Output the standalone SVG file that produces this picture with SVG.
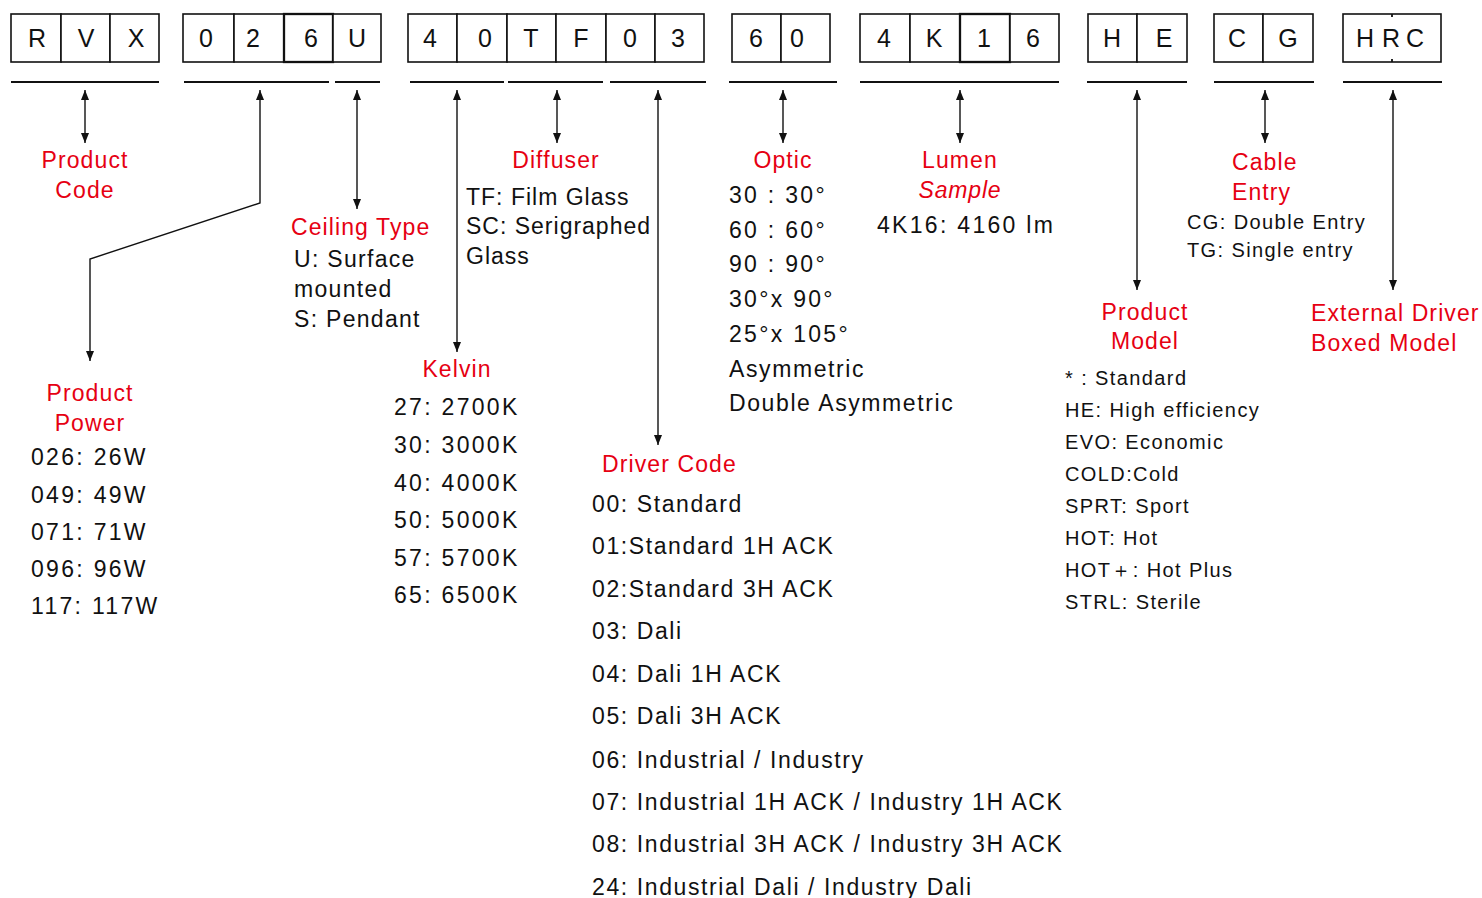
<svg xmlns="http://www.w3.org/2000/svg" width="1482" height="898" viewBox="0 0 1482 898">
<style>
  .cell { fill: #ffffff; stroke: #111111; stroke-width: 1.6; }
  .thick { stroke-width: 2.3; }
  .ul { stroke: #111111; stroke-width: 1.8; }
  .bl { font-family: "Liberation Sans", Arial, sans-serif; font-size: 25px; fill: #111111; text-anchor: middle; }
  .lbl { font-family: "Liberation Sans", Arial, sans-serif; font-size: 23px; fill: #e60012; letter-spacing: 1.1px; }
  .c { text-anchor: middle; }
  .it { font-style: italic; letter-spacing: 0.8px; }
  .t { font-family: "Liberation Sans", Arial, sans-serif; font-size: 23px; fill: #111111; letter-spacing: 1.3px; }
  .d { letter-spacing: 1.6px; }
  .df { letter-spacing: 1.0px; }
  .n { letter-spacing: 2.3px; }
  .s { font-family: "Liberation Sans", Arial, sans-serif; font-size: 20px; fill: #111111; letter-spacing: 1.4px; }
  .con { fill: none; stroke: #111111; stroke-width: 1.4; marker-start: url(#ah); marker-end: url(#ah); }
</style>
<defs>
  <marker id="ah" viewBox="0 0 10 8" refX="10" refY="4" markerWidth="10" markerHeight="8" orient="auto-start-reverse" markerUnits="userSpaceOnUse">
    <path d="M0,0 L10,4 L0,8 z" fill="#111111"/>
  </marker>
</defs>
<rect width="1482" height="898" fill="#ffffff"/>

<g id="product-code">
  <rect class="cell" x="11" y="14" width="50" height="48"/>
  <rect class="cell" x="61" y="14" width="49" height="48"/>
  <rect class="cell" x="110" y="14" width="49" height="48"/>
  <text class="bl" x="37" y="47">R</text>
  <text class="bl" x="86" y="47">V</text>
  <text class="bl" x="136" y="47">X</text>
  <line class="ul" x1="11" y1="82" x2="159" y2="82"/>
  <text class="lbl c" x="85" y="168">Product</text>
  <text class="lbl c" x="85" y="198">Code</text>
</g>

<g id="product-power">
  <rect class="cell" x="183" y="14" width="51" height="48"/>
  <rect class="cell" x="234" y="14" width="50" height="48"/>
  <rect class="cell thick" x="284" y="14" width="49" height="48"/>
  <text class="bl" x="206" y="47">0</text>
  <text class="bl" x="253" y="47">2</text>
  <text class="bl" x="311" y="47">6</text>
  <line class="ul" x1="184" y1="82" x2="329" y2="82"/>
  <text class="lbl c" x="90" y="401">Product</text>
  <text class="lbl c" x="90" y="431">Power</text>
  <text class="t n" x="31" y="465">026: 26W</text>
  <text class="t n" x="31" y="503">049: 49W</text>
  <text class="t n" x="31" y="540">071: 71W</text>
  <text class="t n" x="31" y="577">096: 96W</text>
  <text class="t n" x="31" y="614">117: 117W</text>
</g>

<g id="ceiling-type">
  <rect class="cell" x="333" y="14" width="48" height="48"/>
  <text class="bl" x="357" y="47">U</text>
  <line class="ul" x1="335" y1="82" x2="380" y2="82"/>
  <text class="lbl" x="291" y="235">Ceiling Type</text>
  <text class="t" x="294" y="267">U: Surface</text>
  <text class="t" x="294" y="297">mounted</text>
  <text class="t" x="294" y="327">S: Pendant</text>
</g>

<g id="kelvin">
  <rect class="cell" x="408" y="14" width="49" height="48"/>
  <rect class="cell" x="457" y="14" width="50" height="48"/>
  <text class="bl" x="430" y="47">4</text>
  <text class="bl" x="485" y="47">0</text>
  <line class="ul" x1="410" y1="82" x2="504" y2="82"/>
  <text class="lbl c" x="457" y="377">Kelvin</text>
  <text class="t n" x="394" y="415">27: 2700K</text>
  <text class="t n" x="394" y="453">30: 3000K</text>
  <text class="t n" x="394" y="491">40: 4000K</text>
  <text class="t n" x="394" y="528">50: 5000K</text>
  <text class="t n" x="394" y="566">57: 5700K</text>
  <text class="t n" x="394" y="603">65: 6500K</text>
</g>

<g id="diffuser">
  <rect class="cell" x="507" y="14" width="49" height="48"/>
  <rect class="cell" x="556" y="14" width="50" height="48"/>
  <text class="bl" x="531" y="47">T</text>
  <text class="bl" x="581" y="47">F</text>
  <line class="ul" x1="508" y1="82" x2="603" y2="82"/>
  <text class="lbl c" x="556" y="168">Diffuser</text>
  <text class="t df" x="466" y="205">TF: Film Glass</text>
  <text class="t df" x="466" y="234">SC: Serigraphed</text>
  <text class="t df" x="466" y="264">Glass</text>
</g>

<g id="driver-code">
  <rect class="cell" x="606" y="14" width="49" height="48"/>
  <rect class="cell" x="655" y="14" width="49" height="48"/>
  <text class="bl" x="630" y="47">0</text>
  <text class="bl" x="678" y="47">3</text>
  <line class="ul" x1="610" y1="82" x2="706" y2="82"/>
  <text class="lbl" x="602" y="472">Driver Code</text>
  <text class="t d" x="592" y="512">00: Standard</text>
  <text class="t d" x="592" y="554">01:Standard 1H ACK</text>
  <text class="t d" x="592" y="597">02:Standard 3H ACK</text>
  <text class="t d" x="592" y="639">03: Dali</text>
  <text class="t d" x="592" y="682">04: Dali 1H ACK</text>
  <text class="t d" x="592" y="724">05: Dali 3H ACK</text>
  <text class="t d" x="592" y="768">06: Industrial / Industry</text>
  <text class="t d" x="592" y="810">07: Industrial 1H ACK / Industry 1H ACK</text>
  <text class="t d" x="592" y="852">08: Industrial 3H ACK / Industry 3H ACK</text>
  <text class="t d" x="592" y="895">24: Industrial Dali / Industry Dali</text>
</g>

<g id="optic">
  <rect class="cell" x="732" y="14" width="49" height="48"/>
  <rect class="cell" x="781" y="14" width="49" height="48"/>
  <text class="bl" x="756" y="47">6</text>
  <text class="bl" x="797" y="47">0</text>
  <line class="ul" x1="729" y1="82" x2="837" y2="82"/>
  <text class="lbl c" x="783" y="168">Optic</text>
  <text class="t n" x="729" y="203">30 : 30°</text>
  <text class="t n" x="729" y="238">60 : 60°</text>
  <text class="t n" x="729" y="272">90 : 90°</text>
  <text class="t n" x="729" y="307">30°x 90°</text>
  <text class="t n" x="729" y="342">25°x 105°</text>
  <text class="t d" x="729" y="377">Asymmetric</text>
  <text class="t d" x="729" y="411">Double Asymmetric</text>
</g>

<g id="lumen">
  <rect class="cell" x="860" y="14" width="50" height="48"/>
  <rect class="cell" x="910" y="14" width="50" height="48"/>
  <rect class="cell thick" x="960" y="14" width="50" height="48"/>
  <rect class="cell" x="1010" y="14" width="49" height="48"/>
  <text class="bl" x="884" y="47">4</text>
  <text class="bl" x="934" y="47">K</text>
  <text class="bl" x="984" y="47">1</text>
  <text class="bl" x="1033" y="47">6</text>
  <line class="ul" x1="860" y1="82" x2="1059" y2="82"/>
  <text class="lbl c" x="960" y="168">Lumen</text>
  <text class="lbl c it" x="960" y="198">Sample</text>
  <text class="t n" x="877" y="233">4K16: 4160 lm</text>
</g>

<g id="product-model">
  <rect class="cell" x="1088" y="14" width="49" height="48"/>
  <rect class="cell" x="1137" y="14" width="50" height="48"/>
  <text class="bl" x="1112" y="47">H</text>
  <text class="bl" x="1164" y="47">E</text>
  <line class="ul" x1="1087" y1="82" x2="1187" y2="82"/>
  <text class="lbl c" x="1145" y="320">Product</text>
  <text class="lbl c" x="1145" y="349">Model</text>
  <text class="s" x="1065" y="385">*  : Standard</text>
  <text class="s" x="1065" y="417">HE: High efficiency</text>
  <text class="s" x="1065" y="449">EVO: Economic</text>
  <text class="s" x="1065" y="481">COLD:Cold</text>
  <text class="s" x="1065" y="513">SPRT: Sport</text>
  <text class="s" x="1065" y="545">HOT: Hot</text>
  <text class="s" x="1065" y="577">HOT＋: Hot Plus</text>
  <text class="s" x="1065" y="609">STRL: Sterile</text>
</g>

<g id="cable-entry">
  <rect class="cell" x="1214" y="14" width="49" height="48"/>
  <rect class="cell" x="1263" y="14" width="50" height="48"/>
  <text class="bl" x="1237" y="47">C</text>
  <text class="bl" x="1288" y="47">G</text>
  <line class="ul" x1="1214" y1="82" x2="1314" y2="82"/>
  <text class="lbl" x="1232" y="170">Cable</text>
  <text class="lbl" x="1232" y="200">Entry</text>
  <text class="s" x="1187" y="229">CG: Double Entry</text>
  <text class="s" x="1187" y="257">TG: Single entry</text>
</g>

<g id="external-driver">
  <rect class="cell" x="1343" y="14" width="98" height="48"/>
  <line class="ul" x1="1392" y1="14" x2="1392" y2="17" stroke-width="1.4"/>
  <line class="ul" x1="1392" y1="59" x2="1392" y2="62" stroke-width="1.4"/>
  <text class="bl" x="1365" y="47">H</text>
  <text class="bl" x="1391" y="47">R</text>
  <text class="bl" x="1415" y="47">C</text>
  <line class="ul" x1="1343" y1="82" x2="1442" y2="82"/>
  <text class="lbl" x="1311" y="321">External Driver</text>
  <text class="lbl" x="1311" y="351">Boxed Model</text>
</g>

<g id="connectors">
  <line class="con" x1="85" y1="90" x2="85" y2="143"/>
  <polyline class="con" points="260,90 260,203 90,259 90,361"/>
  <line class="con" x1="357" y1="90" x2="357" y2="209"/>
  <line class="con" x1="457" y1="90" x2="457" y2="352"/>
  <line class="con" x1="557" y1="90" x2="557" y2="143"/>
  <line class="con" x1="658" y1="90" x2="658" y2="445"/>
  <line class="con" x1="783" y1="90" x2="783" y2="143"/>
  <line class="con" x1="960" y1="90" x2="960" y2="143"/>
  <line class="con" x1="1137" y1="90" x2="1137" y2="290"/>
  <line class="con" x1="1265" y1="90" x2="1265" y2="143"/>
  <line class="con" x1="1393" y1="90" x2="1393" y2="290"/>
</g>
</svg>
